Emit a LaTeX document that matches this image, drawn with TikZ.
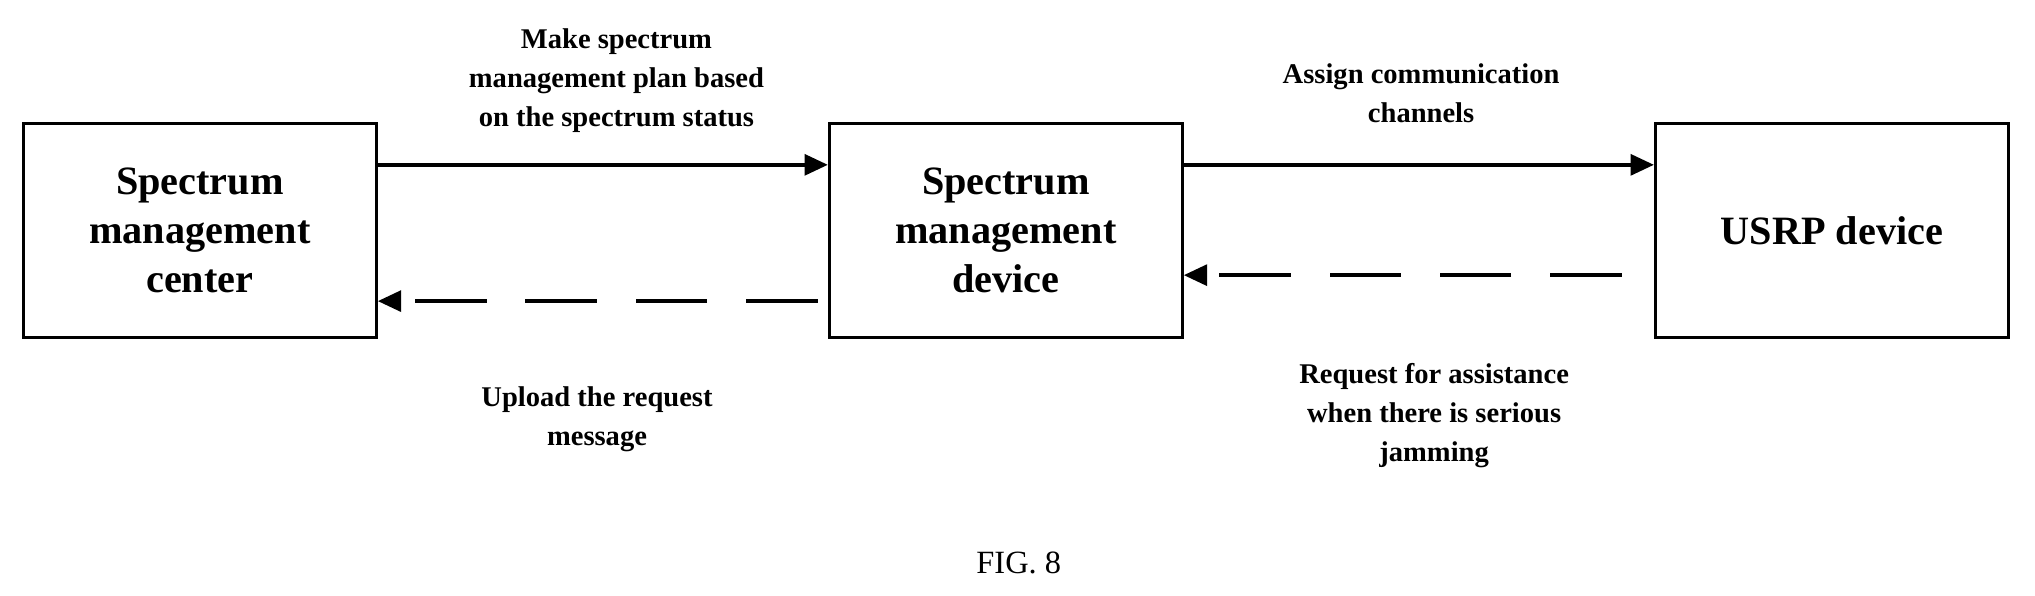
\documentclass[tikz,border=0pt]{standalone}
\usepackage{fontspec}
\setmainfont{Liberation Serif}
\usetikzlibrary{arrows.meta}
\begin{document}
\begin{tikzpicture}[x=1pt,y=-1pt,
 box/.style={draw,line width=2.2pt,minimum width=272pt,minimum height=165pt,align=center,font=\fontsize{31}{38}\selectfont\bfseries},
 lab/.style={align=center,font=\fontsize{22}{30}\selectfont\bfseries},
 arr/.style={line width=3pt,-{Triangle[length=18pt,width=16pt]}},
 dsh/.style={arr,dash pattern=on 55pt off 30pt}]
\useasboundingbox (0,0) rectangle (1568,459);
\node[box] (a) at (154,177.5) {Spectrum\\management\\center};
\node[box] (b) at (775,177.5) {Spectrum\\management\\device};
\node[box] (c) at (1411.5,177.5) {USRP device};
\draw[arr] (a.east |- 0,127) -- (b.west |- 0,127);
\draw[dsh] ([xshift=-8pt]b.west |- 0,232) -- (a.east |- 0,232);
\draw[arr] (b.east |- 0,127) -- (c.west |- 0,127);
\draw[dsh] ([xshift=-25pt]c.west |- 0,212) -- (b.east |- 0,212);
\node[lab] (l1) at (475,62) {Make spectrum\\management plan based\\on the spectrum status};
\node[lab] (l2) at (1095,72) {Assign communication\\channels};
\node[lab] (l3) at (460,323) {Upload the request\\message};
\node[lab] (l4) at (1105,320) {Request for assistance\\when there is serious\\jamming};
\node[font=\fontsize{25}{30}\selectfont] (f) at (785,434) {FIG. 8};
\end{tikzpicture}
\end{document}
